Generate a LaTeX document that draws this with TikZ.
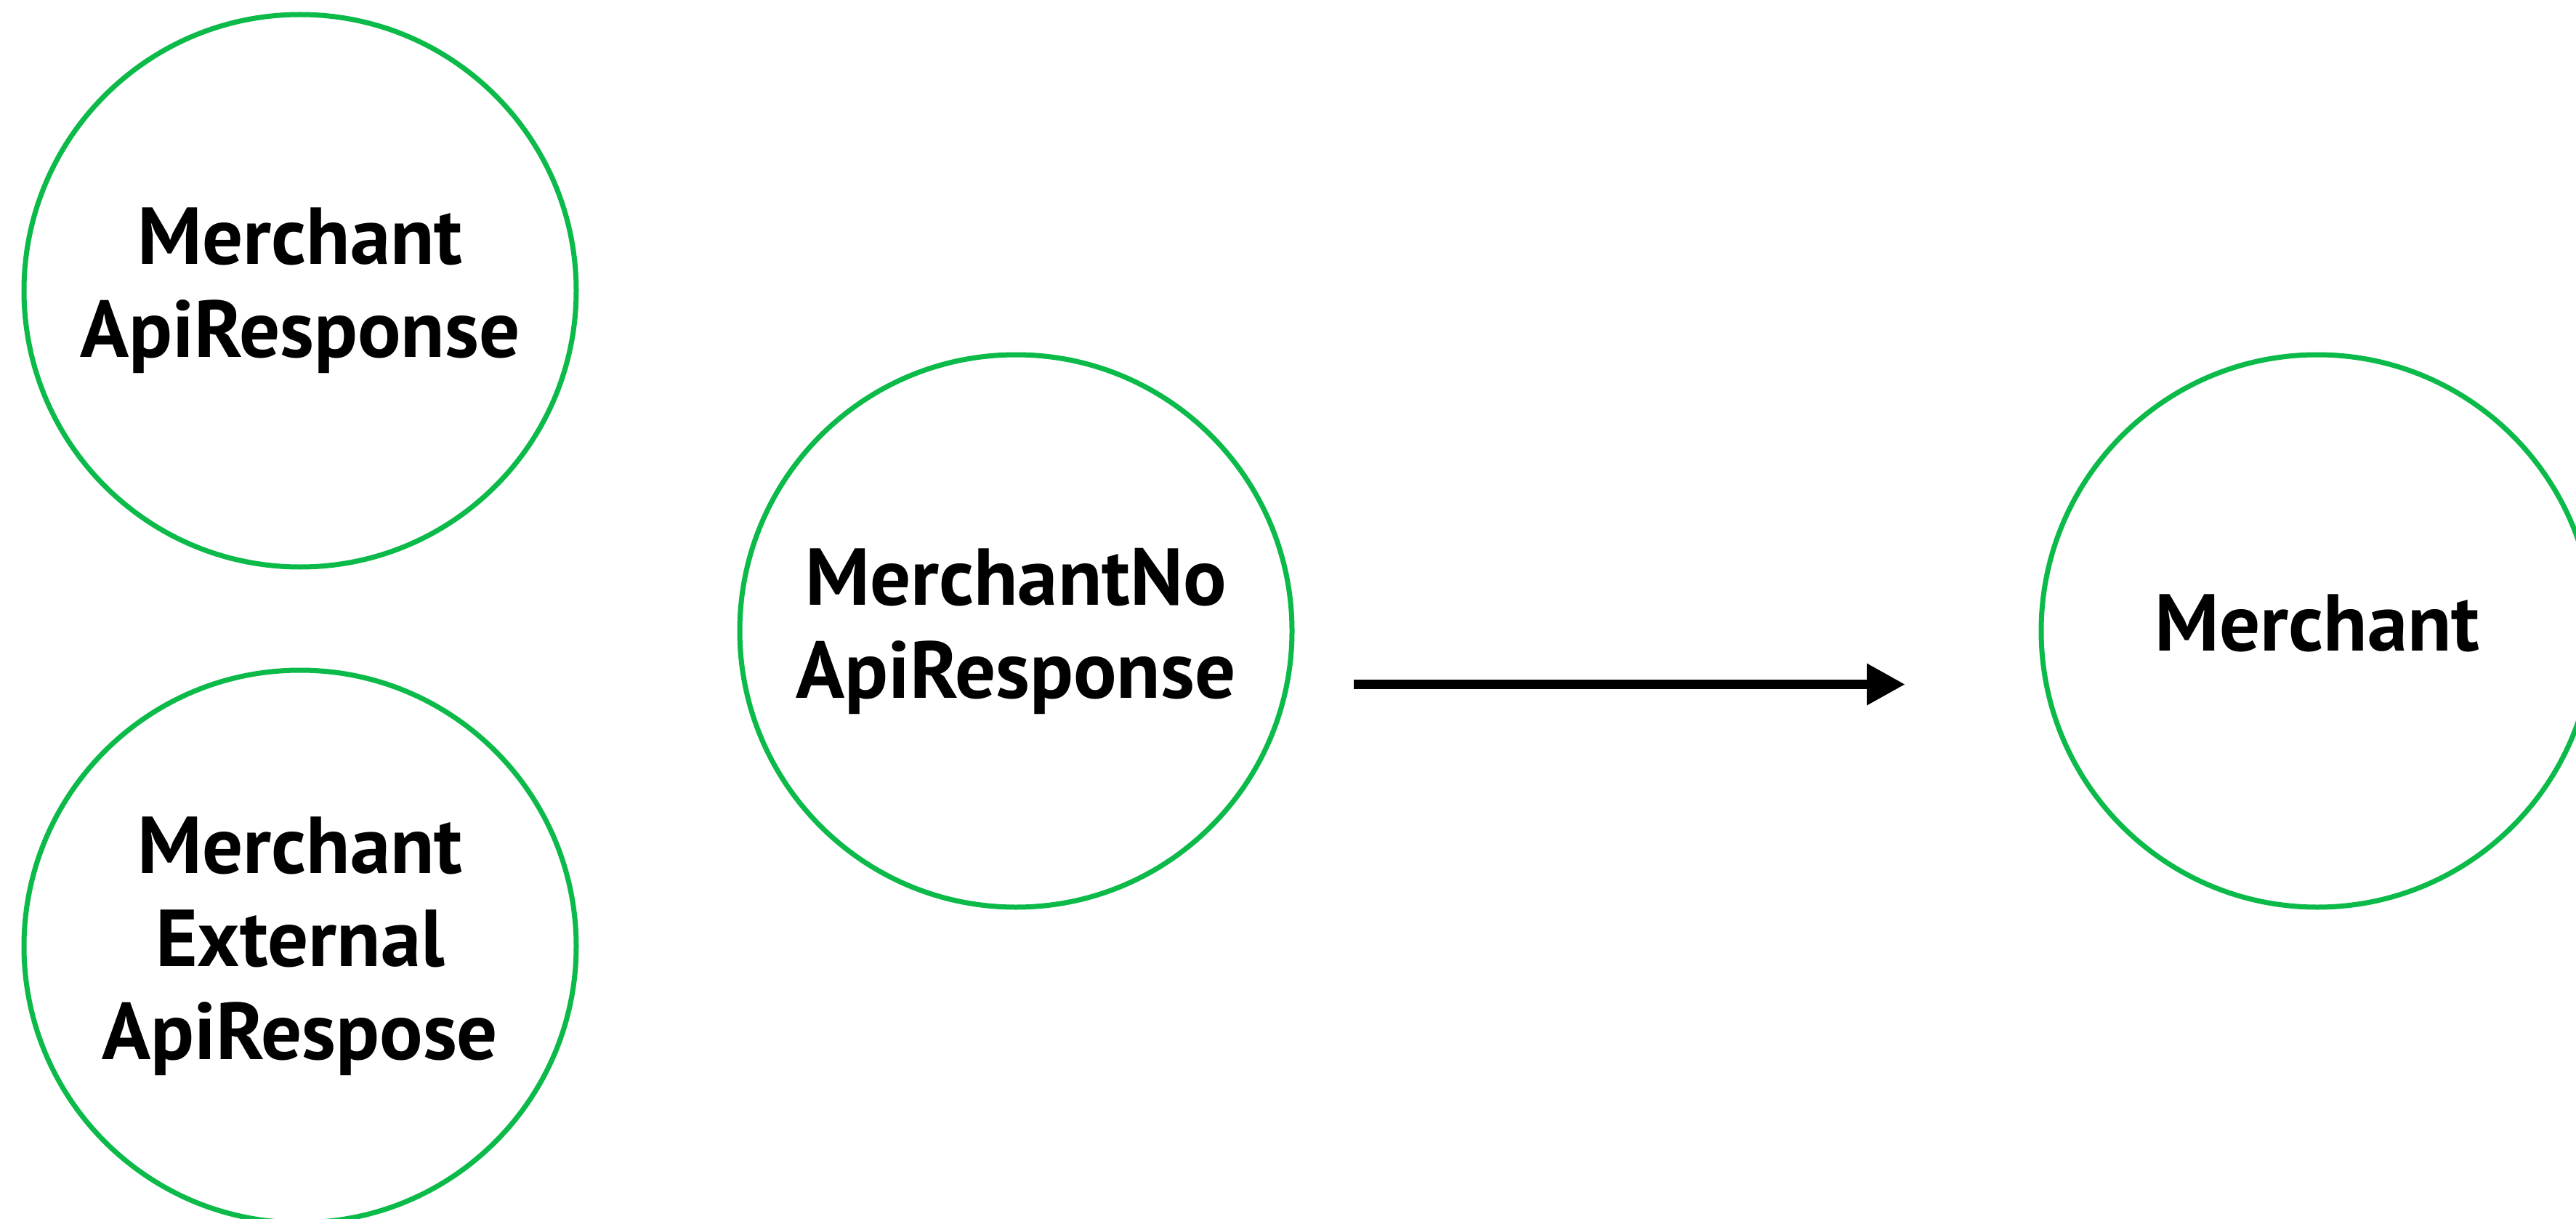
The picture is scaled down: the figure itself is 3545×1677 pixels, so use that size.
\documentclass[tikz,border=0pt]{standalone}
\usepackage{fontspec}
\setmainfont{PT Sans}
\usetikzlibrary{arrows.meta}
\definecolor{ringgreen}{RGB}{12,186,74}
\begin{document}
\begin{tikzpicture}[x=1pt,y=-1pt,
  ring/.style={circle, draw=ringgreen, line width=7pt, minimum size=760pt,
    inner sep=0pt, align=center,
    font=\fontsize{111}{128}\selectfont\bfseries},
  flow/.style={line width=13pt, line cap=butt,
    -{Triangle[length=53pt,width=54pt]}}]
  \useasboundingbox (0,0) rectangle (3545,1677);
  \fill[white] (0,0) rectangle (3545,1677);

  % class boxes drawn as rings
  \node[ring] (api)   at (413,400)   {Merchant\\ApiResponse};
  \node[ring] (ext)   at (413,1302)  {Merchant\\External\\ApiRespose};
  \node[ring] (no)    at (1398,868)  {MerchantNo\\ApiResponse};
  \node[ring, text depth=22pt] (merch) at (3189,868) {Merchant};

  % conversion arrow between the middle ring and the result
  \coordinate (from) at (1863,941.5);
  \coordinate (to)   at (2622,941.5);
  \draw[flow] (from) -- (to);
\end{tikzpicture}
\end{document}
